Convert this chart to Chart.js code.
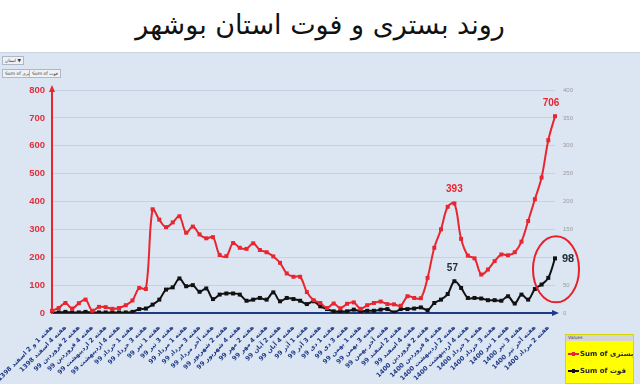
<!DOCTYPE html>
<html>
<head>
<meta charset="utf-8">
<script src="https://cdn.jsdelivr.net/npm/chart.js@4.4.1/dist/chart.umd.min.js"></script>
<style>
  html, body { margin: 0; padding: 0; background: #fff; }
  #wrap { position: relative; width: 640px; height: 384px; overflow: hidden; }
  #title { position: absolute; left: 0; top: 9px; width: 640px; text-align: center;
           font: 27px 'DejaVu Sans'; color: #111; }
  #panel { position: absolute; left: 0; top: 52px; width: 640px; height: 332px; background: #dce6f2;
           border-top: 1px solid #c9d3df; }
  #chart { position: absolute; left: 0; top: 0; }
  .btn { position: absolute; height: 7px; font: 4.5px 'DejaVu Sans'; line-height: 7px; color: #333;
         background: #eef2f7; border: 1px solid #aeb8c4; padding: 0 2px; white-space: nowrap; }
  #legend { position: absolute; left: 565px; top: 281px; width: 67px; height: 48px; background: #ffff00;
            border: 1px solid #d8d800; font: bold 7px 'DejaVu Sans'; color: #222; }
  #legend .head { height: 6px; background: #d6d6d6; font: 4.5px 'DejaVu Sans'; line-height: 6px;
                  padding-left: 2px; color: #444; }
  #legend .row { position: absolute; left: 2px; height: 10px; line-height: 10px; white-space: nowrap; }
  #legend .sw { display: inline-block; width: 11px; height: 2px; vertical-align: middle; position: relative; margin-right: 1px; }
  #legend .sw i { position: absolute; left: 4px; top: -1px; width: 3px; height: 4px; }
</style>
</head>
<body>
<div id="wrap">
  <div id="title">روند بستری و فوت استان بوشهر</div>
  <div id="panel">
    <canvas id="chart" width="640" height="332"></canvas>
    <div class="btn" style="left:2px;top:3px;">استان ▼</div>
    <div class="btn" style="left:2px;top:16px;">Sum of بستری</div>
    <div class="btn" style="left:29px;top:16px;">Sum of فوت</div>
    <div id="legend">
      <div class="head">Values</div>
      <div class="row" style="top:14px;"><span class="sw" style="background:#e8262f"><i style="background:#e8262f"></i></span>Sum of بستری</div>
      <div class="row" style="top:31px;"><span class="sw" style="background:#111"><i style="background:#111"></i></span>Sum of فوت</div>
    </div>
  </div>
</div>
<script>
// one label every two weeks, as printed under the axis
const tickLabels = [
  'هفته 1 و 2 اسفند 1398', 'هفته 4 اسفند 1398',
  'هفته 2 فروردین 99', 'هفته 4 فروردین 99',
  'هفته 2 اردیبهشت 99', 'هفته 4 اردیبهشت 99',
  'هفته 1 خرداد 99', 'هفته 3 خرداد 99',
  'هفته 1 تیر 99', 'هفته 3 تیر 99',
  'هفته 1 مرداد 99', 'هفته 3 مرداد 99', 'هفته آخر مرداد 99',
  'هفته 2 شهریور 99', 'هفته 4 شهریور 99',
  'هفته 2 مهر 99', 'هفته 4 مهر 99',
  'هفته 2 آبان 99', 'هفته 4 آبان 99',
  'هفته 1 آذر 99', 'هفته 3 آذر 99',
  'هفته 1 دی 99', 'هفته 3 دی 99',
  'هفته 1 بهمن 99', 'هفته 3 بهمن 99', 'هفته آخر بهمن 99',
  'هفته 2 اسفند 99', 'هفته 4 اسفند 99',
  'هفته 2 فروردین 1400', 'هفته 4 فروردین 1400',
  'هفته 2 اردیبهشت 1400', 'هفته 4 اردیبهشت 1400',
  'هفته 1 خرداد 1400', 'هفته 3 خرداد 1400',
  'هفته 1 تیر 1400', 'هفته 3 تیر 1400', 'هفته آخر تیر 1400',
  'هفته 2 مرداد 1400'
];

// Sum of بستری (left axis)
const hospitalized = [
  8, 18, 36, 16, 35, 48, 8, 22, 21, 15,
  18, 28, 45, 90, 86, 372, 335, 308, 325, 347,
  288, 310, 282, 268, 272, 208, 204, 251, 234, 230,
  250, 226, 218, 203, 180, 142, 130, 130, 75, 46,
  36, 18, 34, 17, 33, 38, 15, 28, 36, 41,
  32, 31, 26, 60, 54, 53, 126, 234, 300, 381,
  393, 266, 206, 196, 138, 156, 186, 210, 207, 218,
  256, 330, 408, 486, 620, 706
];

// Sum of فوت (right axis)
const deaths = [
  1, 1, 2, 1, 1, 2, 1, 1, 1, 1,
  1, 1, 2, 7, 8, 15, 24, 42, 46, 62,
  48, 50, 38, 44, 25, 33, 35, 35, 33, 22,
  24, 27, 24, 37, 21, 27, 25, 22, 16, 21,
  12, 7, 3, 3, 3, 6, 3, 4, 4, 6,
  7, 1, 7, 7, 8, 10, 5, 18, 24, 34,
  57, 45, 27, 27, 26, 23, 23, 22, 30, 17,
  33, 24, 43, 51, 63, 98
];

const leftTicks = { min: 0, max: 800, step: 100 };
const rightTicks = { min: 0, max: 400, step: 50 };

const RED = '#e8262f';
const NAVY = '#1f3a86';

const weeks = tickLabels.flatMap((t) => [t, '']);

// arrows on the axes, value callouts and the circle round the last point
const decor = {
  id: 'decor',
  afterDatasetsDraw(chart) {
    const { ctx, chartArea: a } = chart;
    const red = chart.getDatasetMeta(0).data;
    const blk = chart.getDatasetMeta(1).data;
    const last = hospitalized.length - 1;
    const peak = 60;
    ctx.save();

    ctx.fillStyle = RED;
    ctx.beginPath();
    ctx.moveTo(a.left, a.top - 5);
    ctx.lineTo(a.left - 3, a.top + 2);
    ctx.lineTo(a.left + 3, a.top + 2);
    ctx.fill();

    ctx.fillStyle = NAVY;
    ctx.beginPath();
    ctx.moveTo(a.right + 4, a.bottom);
    ctx.lineTo(a.right - 3, a.bottom - 3);
    ctx.lineTo(a.right - 3, a.bottom + 3);
    ctx.fill();

    ctx.font = 'bold 10px "Liberation Sans"';
    ctx.textAlign = 'center';
    ctx.textBaseline = 'bottom';
    ctx.fillStyle = RED;
    ctx.fillText(hospitalized[peak], red[peak].x, red[peak].y - 9);
    ctx.fillText(hospitalized[last], red[last].x - 4, red[last].y - 8);
    ctx.fillStyle = '#1d2b3a';
    ctx.fillText(deaths[peak], blk[peak].x - 2, blk[peak].y - 8);
    ctx.font = 'bold 11px "Liberation Sans"';
    ctx.textAlign = 'left';
    ctx.textBaseline = 'middle';
    ctx.fillText(deaths[last], blk[last].x + 7, blk[last].y + 1);

    ctx.strokeStyle = '#e8202a';
    ctx.lineWidth = 2;
    ctx.beginPath();
    ctx.ellipse(blk[last].x + 1, blk[last].y + 11, 23, 33, 0, 0, Math.PI * 2);
    ctx.stroke();
    ctx.restore();
  }
};

new Chart(document.getElementById('chart'), {
  type: 'line',
  data: {
    labels: weeks,
    datasets: [
      {
        label: 'Sum of بستری',
        data: hospitalized,
        yAxisID: 'y',
        borderColor: RED,
        backgroundColor: RED,
        borderWidth: 2,
        pointStyle: 'rect',
        pointRadius: 1.4,
        tension: 0.35,
      },
      {
        label: 'Sum of فوت',
        data: deaths,
        yAxisID: 'y1',
        borderColor: '#111',
        backgroundColor: '#111',
        borderWidth: 2,
        pointStyle: 'rect',
        pointRadius: 1.4,
        tension: 0.35,
      }
    ],
  },
  options: {
    responsive: false,
    animation: false,
    layout: { padding: { top: 37 } },
    plugins: { legend: { display: false }, tooltip: { enabled: false } },
    scales: {
      x: {
        type: 'category',
        offset: false,
        grid: { display: false },
        border: { color: NAVY, width: 2 },
        ticks: {
          autoSkip: false,
          maxRotation: 45,
          minRotation: 45,
          padding: 3,
          color: NAVY,
          font: { family: 'DejaVu Sans', size: 6.3, weight: 'bold' },
        },
        afterFit(s) { s.height = 72; s.paddingLeft = 0; s.paddingRight = 0; },
      },
      y: {
        position: 'left',
        min: leftTicks.min,
        max: leftTicks.max,
        ticks: {
          stepSize: leftTicks.step,
          padding: 7,
          color: '#e0303a',
          font: { family: 'Liberation Sans', size: 9.5, weight: 'bold' },
        },
        grid: { color: 'rgba(160, 180, 205, 0.4)', drawTicks: false },
        border: { color: RED, width: 2 },
        afterFit(s) { s.width = 52; },
      },
      y1: {
        position: 'right',
        min: rightTicks.min,
        max: rightTicks.max,
        ticks: {
          stepSize: rightTicks.step,
          padding: 8,
          color: '#9a9a9a',
          font: { family: 'Liberation Sans', size: 6 },
        },
        grid: { display: false, drawTicks: false },
        border: { display: false },
        afterFit(s) { s.width = 85; },
      }
    }
  },
  plugins: [decor]
});
</script>
</body>
</html>
